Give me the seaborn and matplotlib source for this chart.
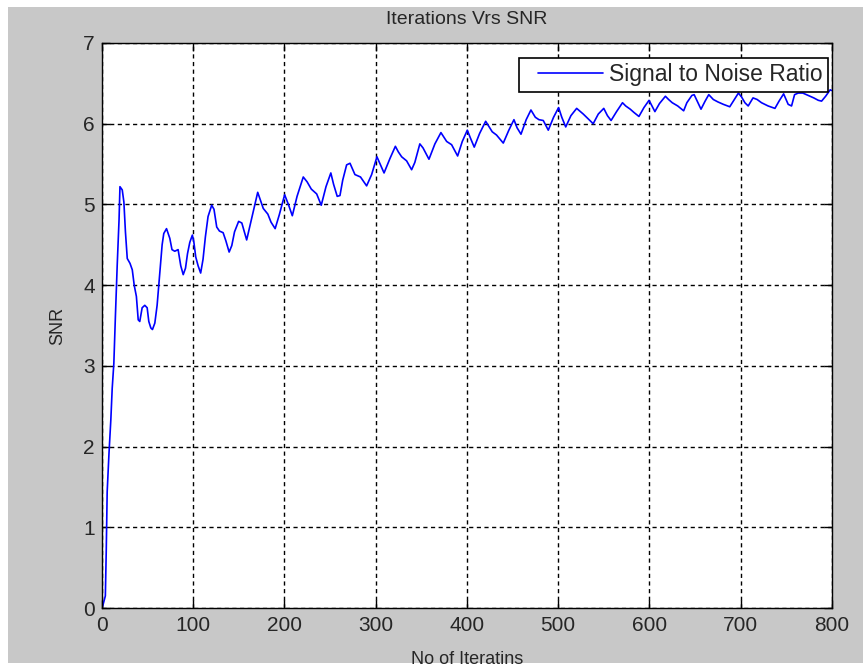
import matplotlib
matplotlib.use("Agg")
import matplotlib.pyplot as plt
import seaborn as sns
import pandas as pd
from matplotlib.patches import Rectangle
from matplotlib.lines import Line2D
from matplotlib.legend_handler import HandlerLine2D
from matplotlib import font_manager

iterations = [1, 4, 5, 6, 8, 10, 11.5, 13.3, 15, 17, 19, 20, 22.5, 24.3, 26, 28, 31, 33.5, 35.6, 38,
              40, 41.7, 44.3, 47.2, 49.8, 51.6, 53.8, 55.6, 58.2, 60.7, 62.6, 64.4, 66.2, 68, 71,
              74.6, 77, 80, 83.7, 86.6, 89.3, 91.8, 94, 96.5, 99.3, 101, 103, 105.6, 108.4, 111,
              113.6, 116.5, 120.5, 123, 126, 129, 133, 136, 139.6, 142.5, 145.5, 150, 153.5, 158.8,
              164.3, 170.9, 177, 182, 185.5, 190, 194.5, 200.4, 204.5, 208.8, 214, 220.8, 225,
              229.6, 235.5, 240.5, 245.7, 251, 254, 258, 261, 264, 268.3, 272, 277.4, 283.5, 290.2,
              295.7, 301.5, 305, 309.3, 315.8, 321.7, 325, 328.6, 334, 339.5, 343, 348.5, 352,
              358.5, 365, 371.6, 377.9, 383.3, 389.9, 395, 400.5, 404, 408.1, 414, 420.6, 427.8,
              432.5, 439.9, 446, 451.6, 455, 459.3, 465, 470.2, 475, 479, 483.7, 489.2, 495, 500.5,
              504, 508.3, 514, 520.3, 527.5, 533, 538.4, 544, 550, 554, 558, 564, 570.5, 574, 579,
              583, 588.5, 594, 599.6, 606, 611, 617.5, 621, 625, 631, 637.5, 641, 646.5, 649,
              656.5, 661, 665, 670, 675, 681, 688, 693, 697.5, 701, 704.6, 708.2, 713.5, 718,
              722.8, 730, 737.5, 742, 747, 752, 755.7, 759, 763, 768, 774, 780, 785, 788.6, 793,
              798, 800]
snr = [0.02, 0.15, 0.72, 1.44, 1.92, 2.33, 2.72, 3.03, 3.61, 4.25, 4.81, 5.22, 5.18, 5.03, 4.66,
       4.33, 4.27, 4.19, 4.0, 3.86, 3.57, 3.55, 3.72, 3.75, 3.72, 3.55, 3.47, 3.45, 3.53, 3.75,
       4.01, 4.26, 4.5, 4.64, 4.70, 4.58, 4.44, 4.42, 4.44, 4.24, 4.13, 4.21, 4.39, 4.53, 4.62,
       4.53, 4.35, 4.24, 4.15, 4.32, 4.6, 4.85, 4.99, 4.94, 4.72, 4.67, 4.65, 4.55, 4.41, 4.49,
       4.66, 4.79, 4.77, 4.56, 4.83, 5.15, 4.95, 4.88, 4.78, 4.70, 4.87, 5.12, 5.0, 4.86, 5.1,
       5.34, 5.28, 5.19, 5.13, 4.99, 5.22, 5.39, 5.25, 5.10, 5.11, 5.3, 5.49, 5.51, 5.37, 5.34,
       5.23, 5.37, 5.59, 5.5, 5.39, 5.57, 5.72, 5.65, 5.59, 5.54, 5.43, 5.52, 5.75, 5.70, 5.56,
       5.75, 5.89, 5.78, 5.74, 5.60, 5.78, 5.92, 5.82, 5.71, 5.88, 6.03, 5.90, 5.86, 5.76, 5.92,
       6.05, 5.95, 5.87, 6.05, 6.17, 6.08, 6.05, 6.04, 5.92, 6.08, 6.20, 6.08, 5.96, 6.1, 6.19,
       6.12, 6.06, 6.00, 6.12, 6.19, 6.1, 6.04, 6.15, 6.26, 6.22, 6.18, 6.14, 6.09, 6.2, 6.29,
       6.15, 6.25, 6.34, 6.3, 6.26, 6.22, 6.16, 6.26, 6.35, 6.36, 6.18, 6.28, 6.36, 6.30, 6.27,
       6.24, 6.21, 6.3, 6.38, 6.33, 6.26, 6.22, 6.32, 6.3, 6.26, 6.22, 6.19, 6.28, 6.37, 6.24,
       6.22, 6.36, 6.38, 6.38, 6.35, 6.32, 6.29, 6.28, 6.34, 6.42, 6.41]

x_ticks = [0, 100, 200, 300, 400, 500, 600, 700, 800]
y_ticks = [0, 1, 2, 3, 4, 5, 6, 7]
series_label = "Signal to Noise Ratio"
title = "Iterations Vrs SNR"
xlabel = "No of Iteratins"
ylabel = "SNR"

sns.set_style("white")
names = {f.name for f in font_manager.fontManager.ttflist}
fam = ["Liberation Sans Narrow", "DejaVu Sans"] if "Liberation Sans Narrow" in names else ["Liberation Sans", "DejaVu Sans"]
plt.rcParams["font.family"] = fam

df = pd.DataFrame({"iter": iterations, "snr": snr})

fig = plt.figure(figsize=(8.63, 6.67), dpi=100, facecolor="white")
fig.patches.append(Rectangle((8 / 863, 4 / 667), 1 - 8 / 863, 656 / 667,
                             transform=fig.transFigure, facecolor="#c8c8c8",
                             edgecolor="none", zorder=-10))
ax = fig.add_axes([101.7 / 863, 59 / 667, (832 - 101.7) / 863, (608 - 43) / 667])
ax.set_facecolor("white")

sns.lineplot(data=df, x="iter", y="snr", ax=ax, color="#0000ff", linewidth=1.2,
             label=series_label, sort=False, estimator=None)

ax.set_xlim(0, 800)
ax.set_ylim(0, 7)
ax.set_xticks(x_ticks)
ax.set_yticks(y_ticks)
ax.set_xticklabels([str(t) for t in x_ticks])
ax.set_yticklabels([str(t) for t in y_ticks])
ax.tick_params(direction="in", length=6, width=1, color="black", labelsize=15,
               top=True, right=True, bottom=True, left=True)
ax.tick_params(axis="x", pad=6)
ax.tick_params(axis="y", pad=5)
ax.grid(True, color="black", linestyle=(0, (3, 2.5)), linewidth=1)
for s in ax.spines.values():
    s.set_color("black")
    s.set_linewidth(1)

ax.set_title(title, fontsize=14, pad=14)
ax.set_xlabel(xlabel, fontsize=13, labelpad=11)
ax.set_ylabel(ylabel, fontsize=13, labelpad=12)

handles, labels = ax.get_legend_handles_labels()
leg = ax.legend(handles, labels, loc="upper right", bbox_to_anchor=(0.9945, 0.9735),
                fontsize=16.5, frameon=True, fancybox=False, edgecolor="black",
                framealpha=1, borderaxespad=0, handlelength=3.43, handletextpad=0.26,
                borderpad=0.23,
                handler_map={Line2D: HandlerLine2D(xpad=0.6)})
leg.get_frame().set_linewidth(1.2)

fig.savefig("out.png", dpi=100, facecolor=fig.get_facecolor())
